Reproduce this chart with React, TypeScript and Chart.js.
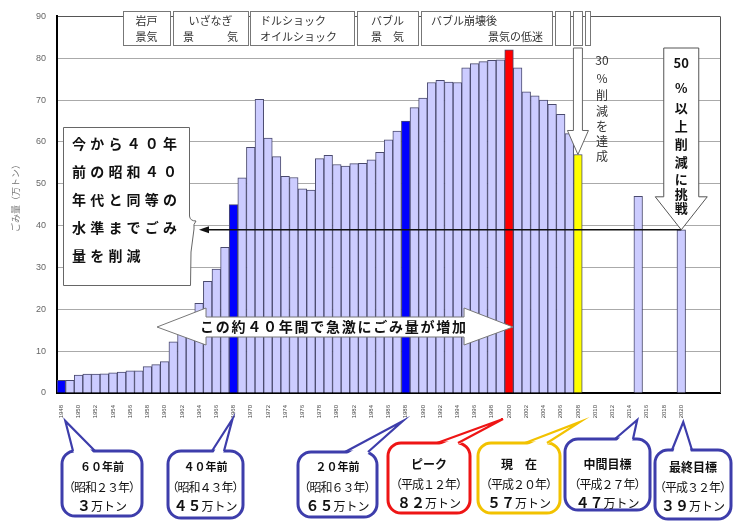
import { useEffect, useRef } from 'react';
import { Chart, registerables } from 'chart.js';

Chart.register(...registerables);

// Fiscal years on the category axis (extra empty years keep room on the right)
const years = [
  1948, 1949, 1950, 1951, 1952, 1953, 1954, 1955, 1956, 1957,
  1958, 1959, 1960, 1961, 1962, 1963, 1964, 1965, 1966, 1967,
  1968, 1969, 1970, 1971, 1972, 1973, 1974, 1975, 1976, 1977,
  1978, 1979, 1980, 1981, 1982, 1983, 1984, 1985, 1986, 1987,
  1988, 1989, 1990, 1991, 1992, 1993, 1994, 1995, 1996, 1997,
  1998, 1999, 2000, 2001, 2002, 2003, 2004, 2005, 2006, 2007,
  2008, 2009, 2010, 2011, 2012, 2013, 2014, 2015, 2016, 2017,
  2018, 2019, 2020, 2021, 2022, 2023, 2024,
];

// Years that get a tick label
const tickYears = [
  1948, 1950, 1952, 1954, 1956, 1958, 1960, 1962, 1964, 1966,
  1968, 1970, 1972, 1974, 1976, 1978, 1980, 1982, 1984, 1986,
  1988, 1990, 1992, 1994, 1996, 1998, 2000, 2002, 2004, 2006,
  2008, 2010, 2012, 2014, 2016, 2018, 2020,
];

// Waste amount (万トン) per year; null = no bar
const garbage: (number | null)[] = [
  3, 3, 4.3, 4.5, 4.5, 4.6, 4.8, 5.0, 5.3, 5.3,
  6.3, 6.8, 7.5, 12.2, 14.3, 14.3, 21.4, 26.7, 29.6, 34.8,
  45, 51.4, 58.7, 70.2, 60.9, 56.5, 51.8, 51.5, 48.8, 48.5,
  56, 56.8, 54.6, 54.2, 54.8, 54.9, 55.7, 57.5, 60.5, 62.6,
  65, 68.2, 70.5, 74.2, 74.7, 74.3, 74.2, 77.7, 78.7, 79.2,
  79.5, 79.6, 82, 77.7, 72, 71, 70, 69, 66.6, 62,
  57, null, null, null, null, null, null, 47, null, null,
  null, null, 39, null, null, null, null,
];

const milestoneYears = [1948, 1968, 1988];
const peakYear = 2000;
const currentYear = 2008;
const targetYear = 2020;

// Economic-period headers
const eraLabels = [
  ['岩戸', '景気'],
  ['いざなぎ', '景　　　気'],
  ['ドルショック', 'オイルショック'],
  ['バブル', '景　気'],
  ['バブル崩壊後', '景気の低迷'],
  [], [], [],
];

// Callouts under the axis
const calloutYears = [1948, 1968, 1988, 2000, 2008, 2015, 2020];
const calloutTitles = ['６０年前', '４０年前', '２０年前', 'ピーク', '現　在', '中間目標', '最終目標'];
const calloutEras = ['（昭和２３年）', '（昭和４３年）', '（昭和６３年）', '（平成１２年）', '（平成２０年）', '（平成２７年）', '（平成３２年）'];

const noteLines = ['今から４０年', '前の昭和４０', '年代と同等の', '水準までごみ', '量を削減'];
const growthText = 'この約４０年間で急激にごみ量が増加';
const cut30Text = ['30', '%', '削', '減', 'を', '達', '成'];
const cut50Text = ['50', '%', '以', '上', '削', '減', 'に', '挑', '戦'];
const yTitle = 'ごみ量（万トン）';

const JP = '"Noto Sans CJK JP", "Noto Sans CJK SC", sans-serif';
const LAT = '"Liberation Sans", Arial, sans-serif';

const zen = (n: number) =>
  String(n).replace(/[0-9]/g, (d) => String.fromCharCode(d.charCodeAt(0) + 0xfee0));

const valueOf = (yr: number) => garbage[years.indexOf(yr)] as number;

// Box geometry for the header boxes
const eraLayout = [
  { x0: 123, x1: 170, align: ['center', 'center'] },
  { x0: 173, x1: 248, align: ['center', 'center'] },
  { x0: 250, x1: 354, align: ['left', 'left'] },
  { x0: 357, x1: 418, align: ['center', 'center'] },
  { x0: 421, x1: 552, align: ['left', 'right'] },
  { x0: 555, x1: 570, align: [] },
  { x0: 573, x1: 582, align: [] },
  { x0: 585, x1: 590, align: [] },
];

// Callout box geometry: box, tail base on the top edge, tail tip offset
const calloutLayout = [
  { x0: 62, y0: 451, x1: 142, y1: 516, bl: 73, br: 95, dx: 4, tipY: 421, color: '#3d3dab', tSize: 11 },
  { x0: 168, y0: 451, x1: 243, y1: 518, bl: 212, br: 224, dx: -1, tipY: 419, color: '#3d3dab', tSize: 11 },
  { x0: 298, y0: 452, x1: 377, y1: 517, bl: 345, br: 368, dx: -3, tipY: 421, color: '#3d3dab', tSize: 11 },
  { x0: 388, y0: 443, x1: 470, y1: 513, bl: 437, br: 458, dx: -6, tipY: 419, color: '#ee1515', tSize: 12 },
  { x0: 478, y0: 443, x1: 560, y1: 513, bl: 525, br: 547, dx: 2, tipY: 422, color: '#f2c200', tSize: 12 },
  { x0: 565, y0: 439, x1: 650, y1: 510, bl: 615, br: 633, dx: -1, tipY: 420, color: '#3d3dab', tSize: 12 },
  { x0: 655, y0: 450, x1: 731, y1: 519, bl: 672, br: 692, dx: 2, tipY: 422, color: '#3d3dab', tSize: 12 },
];

function spaced(ctx: CanvasRenderingContext2D, text: string, cx: number, cy: number, adv: number) {
  const chars = Array.from(text);
  const start = cx - (adv * (chars.length - 1)) / 2;
  chars.forEach((c, i) => ctx.fillText(c, start + i * adv, cy));
}

const annotations = {
  id: 'annotations',
  afterDraw(chart: any) {
    const ctx: CanvasRenderingContext2D = chart.ctx;
    const xs = chart.scales.x;
    const ys = chart.scales.y;
    const area = chart.chartArea;
    const px = (yr: number) => xs.getPixelForValue(years.indexOf(yr));
    const py = (v: number) => ys.getPixelForValue(v);

    ctx.save();
    ctx.textBaseline = 'middle';

    // right frame of the plot
    ctx.strokeStyle = '#555';
    ctx.lineWidth = 1;
    ctx.beginPath();
    ctx.moveTo(area.right + 0.5, area.top);
    ctx.lineTo(area.right + 0.5, area.bottom);
    ctx.stroke();

    // economic-period headers
    eraLayout.forEach((b, i) => {
      const y0 = 11, y1 = 45;
      ctx.fillStyle = '#fff';
      ctx.fillRect(b.x0, y0, b.x1 - b.x0, y1 - y0);
      ctx.strokeStyle = '#777';
      ctx.lineWidth = 1;
      ctx.strokeRect(b.x0 + 0.5, y0 + 0.5, b.x1 - b.x0, y1 - y0);
      ctx.fillStyle = '#333';
      ctx.font = `11px ${JP}`;
      eraLabels[i].forEach((t, j) => {
        const a = b.align[j];
        const y = j === 0 ? 21 : 37;
        ctx.textAlign = a as CanvasTextAlign;
        const x = a === 'left' ? b.x0 + 10 : a === 'right' ? b.x1 - 9 : (b.x0 + b.x1) / 2;
        ctx.fillText(t, x, y);
      });
    });

    // note box on the left
    ctx.beginPath();
    ctx.moveTo(63.5, 127.5);
    ctx.lineTo(189.5, 127.5);
    ctx.lineTo(189.5, 216);
    ctx.quadraticCurveTo(190, 221, 196, 221);
    ctx.quadraticCurveTo(193, 224, 194, 229);
    ctx.lineTo(191, 252);
    ctx.lineTo(190.5, 285.5);
    ctx.lineTo(63.5, 285.5);
    ctx.closePath();
    ctx.fillStyle = '#fff';
    ctx.fill();
    ctx.strokeStyle = '#666';
    ctx.lineWidth = 1;
    ctx.stroke();
    ctx.fillStyle = '#111';
    ctx.font = `bold 14px ${JP}`;
    ctx.textAlign = 'center';
    noteLines.forEach((line, i) => {
      Array.from(line).forEach((c, k) => ctx.fillText(c, 79 + k * 18.2, 144 + i * 28));
    });

    // target level line with arrow head
    const yT = py(valueOf(targetYear));
    ctx.strokeStyle = '#111';
    ctx.lineWidth = 1.5;
    ctx.beginPath();
    ctx.moveTo(205, yT);
    ctx.lineTo(px(targetYear), yT);
    ctx.stroke();
    ctx.fillStyle = '#111';
    ctx.beginPath();
    ctx.moveTo(199, yT);
    ctx.lineTo(209, yT - 3.5);
    ctx.lineTo(209, yT + 3.5);
    ctx.closePath();
    ctx.fill();

    // double-headed growth arrow
    const lt = px(1959) + 1;
    const rt = px(peakYear) + 4;
    const cy = 327;
    const hl = 49;
    ctx.beginPath();
    ctx.moveTo(lt, cy);
    ctx.lineTo(lt + hl, cy - 19);
    ctx.lineTo(lt + hl, cy - 10);
    ctx.lineTo(rt - hl, cy - 10);
    ctx.lineTo(rt - hl, cy - 19);
    ctx.lineTo(rt, cy);
    ctx.lineTo(rt - hl, cy + 18);
    ctx.lineTo(rt - hl, cy + 10);
    ctx.lineTo(lt + hl, cy + 10);
    ctx.lineTo(lt + hl, cy + 18);
    ctx.closePath();
    ctx.fillStyle = '#fff';
    ctx.fill();
    ctx.strokeStyle = '#777';
    ctx.lineWidth = 1;
    ctx.stroke();
    ctx.fillStyle = '#111';
    ctx.font = `bold 14px ${JP}`;
    spaced(ctx, growthText, 333, cy, 15.75);

    // 30% arrow down to the current year
    {
      const tx = px(currentYear);
      const ty = py(valueOf(currentYear));
      const sw = 4.5, hw = 10.5, hh = 24, top = 48;
      ctx.beginPath();
      ctx.moveTo(tx - sw, top);
      ctx.lineTo(tx + sw, top);
      ctx.lineTo(tx + sw, ty - hh);
      ctx.lineTo(tx + hw, ty - hh);
      ctx.lineTo(tx, ty);
      ctx.lineTo(tx - hw, ty - hh);
      ctx.lineTo(tx - sw, ty - hh);
      ctx.closePath();
      ctx.fillStyle = '#fff';
      ctx.fill();
      ctx.strokeStyle = '#666';
      ctx.stroke();
      ctx.fillStyle = '#333';
      ctx.font = `12px ${JP}`;
      const ys30 = [60, 78, 95, 111, 126, 141, 156];
      cut30Text.forEach((c, i) => ctx.fillText(c, 602, ys30[i]));
    }

    // 50% block arrow down to the final target
    {
      const tx = px(targetYear);
      const ty = yT;
      const sw = 17.5, hw = 26, hh = 33, top = 48;
      ctx.beginPath();
      ctx.moveTo(tx - sw, top);
      ctx.lineTo(tx + sw, top);
      ctx.lineTo(tx + sw, ty - hh);
      ctx.lineTo(tx + hw, ty - hh);
      ctx.lineTo(tx, ty);
      ctx.lineTo(tx - hw, ty - hh);
      ctx.lineTo(tx - sw, ty - hh);
      ctx.closePath();
      ctx.fillStyle = '#fff';
      ctx.fill();
      ctx.strokeStyle = '#555';
      ctx.lineWidth = 1;
      ctx.stroke();
      ctx.fillStyle = '#111';
      ctx.font = `bold 13px ${JP}`;
      const ys50 = [63, 88, 108, 126, 144, 162, 179, 194, 208];
      cut50Text.forEach((c, i) => ctx.fillText(c, tx, ys50[i]));
    }

    // callouts under the axis
    calloutLayout.forEach((b, i) => {
      const yr = calloutYears[i];
      const tipX = px(yr) + b.dx;
      ctx.lineWidth = 3;
      ctx.strokeStyle = b.color;
      ctx.fillStyle = '#fff';
      ctx.beginPath();
      ctx.roundRect(b.x0, b.y0, b.x1 - b.x0, b.y1 - b.y0, 13);
      ctx.fill();
      ctx.stroke();
      ctx.beginPath();
      ctx.moveTo(b.bl + 1, b.y0 + 2.5);
      ctx.lineTo(tipX, b.tipY);
      ctx.lineTo(b.br - 1, b.y0 + 2.5);
      ctx.closePath();
      ctx.fill();
      ctx.lineWidth = 2.2;
      ctx.beginPath();
      ctx.moveTo(b.bl, b.y0);
      ctx.lineTo(tipX, b.tipY);
      ctx.lineTo(b.br, b.y0);
      ctx.stroke();

      const cx = (b.x0 + b.x1) / 2;
      const off = b.y0 > 449 ? 3 : 0;
      ctx.fillStyle = '#111';
      ctx.textAlign = 'center';
      ctx.font = `bold ${b.tSize}px ${JP}`;
      ctx.fillText(calloutTitles[i], cx, 464 + off);
      ctx.font = `12px ${JP}`;
      spaced(ctx, calloutEras[i], cx, 484 + off, 11);

      const num = zen(valueOf(yr));
      const unit = '万トン';
      ctx.font = `bold 14px ${JP}`;
      const wNum = ctx.measureText(num).width;
      ctx.font = `12px ${JP}`;
      const wUnit = ctx.measureText(unit).width;
      const x0 = cx - (wNum + wUnit) / 2;
      ctx.textAlign = 'left';
      ctx.font = `bold 14px ${JP}`;
      ctx.fillText(num, x0, 503 + off);
      ctx.font = `12px ${JP}`;
      ctx.fillText(unit, x0 + wNum, 503 + off);
    });

    // y-axis title
    ctx.save();
    ctx.translate(16, 196);
    ctx.rotate(-Math.PI / 2);
    ctx.textAlign = 'center';
    ctx.fillStyle = '#777';
    ctx.font = `9px ${JP}`;
    ctx.fillText(yTitle, 0, 0);
    ctx.restore();

    ctx.restore();
  },
};

export default function App() {
  const ref = useRef<HTMLCanvasElement>(null);

  useEffect(() => {
    const colors = years.map((yr) => {
      if (milestoneYears.includes(yr)) return '#0000ff';
      if (yr === peakYear) return '#ff0000';
      if (yr === currentYear) return '#ffff00';
      return '#ccccff';
    });

    const chart = new Chart(ref.current as HTMLCanvasElement, {
      type: 'bar',
      data: {
        labels: years.map(String),
        datasets: [
          {
            data: garbage,
            backgroundColor: colors,
            borderColor: '#4a4a6e',
            borderWidth: 1,
            barPercentage: 1,
            categoryPercentage: 1,
          },
        ],
      },
      options: {
        animation: false,
        responsive: false,
        devicePixelRatio: 1,
        layout: { padding: { top: 14, right: 13, left: 0, bottom: 0 } },
        plugins: { legend: { display: false }, tooltip: { enabled: false } },
        scales: {
          x: {
            grid: { display: false },
            border: { display: true, color: '#000', width: 2 },
            ticks: {
              autoSkip: false,
              maxRotation: 90,
              minRotation: 90,
              padding: 4,
              color: '#444',
              font: { size: 6, family: LAT },
              callback: (_v: any, i: number) => (tickYears.includes(years[i]) ? String(years[i]) : ''),
            },
            afterFit: (s: any) => {
              s.height = 128;
            },
          },
          y: {
            min: 0,
            max: 90,
            ticks: { stepSize: 10, padding: 11, color: '#666', font: { size: 9, family: LAT } },
            grid: {
              color: (c: any) => (c.tick && c.tick.value === 90 ? '#555' : '#aaa'),
              drawTicks: false,
            },
            border: { color: '#000', width: 2 },
            afterFit: (s: any) => {
              s.width = 57;
            },
          },
        },
      },
      plugins: [annotations],
    } as any);

    return () => chart.destroy();
  }, []);

  return (
    <div style={{ position: 'absolute', left: 0, top: 0, width: 733, height: 521, background: '#fff' }}>
      <canvas ref={ref} width={733} height={521} style={{ display: 'block' }} />
    </div>
  );
}
